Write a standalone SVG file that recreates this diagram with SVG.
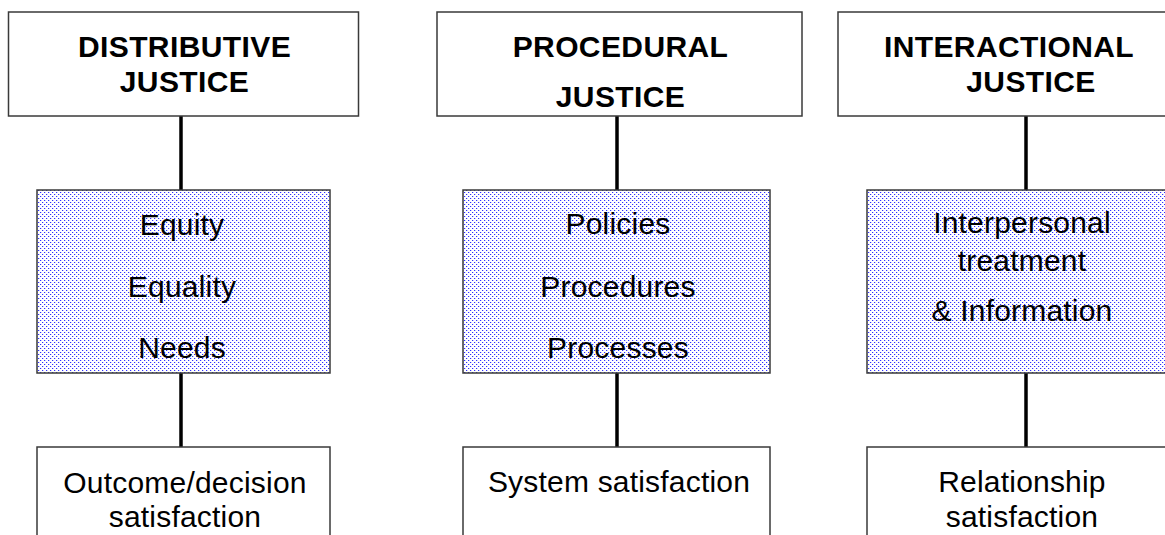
<svg xmlns="http://www.w3.org/2000/svg" width="1165" height="535" viewBox="0 0 1165 535">
<style>
.box{fill:#ffffff;stroke:#3a3a3a;stroke-width:1.5}
.dot{fill:url(#dots);stroke:#3a3a3a;stroke-width:1.5}
.title{font-family:"Liberation Sans",Arial,sans-serif;font-weight:bold;font-size:30px;letter-spacing:0.4px;fill:#000;text-anchor:middle}
.lbl{font-family:"Liberation Sans",Arial,sans-serif;font-size:30px;letter-spacing:0.2px;fill:#000;text-anchor:middle}
.conn{stroke:#000;stroke-width:3.5;fill:none}
</style>
<defs>
<pattern id="dots" x="0" y="0" width="4" height="4" patternUnits="userSpaceOnUse">
<rect x="0" y="0" width="4" height="4" fill="#ffffff"/>
<rect x="0" y="0" width="1" height="1" fill="#3030ff"/>
<rect x="2" y="2" width="1" height="1" fill="#3030ff"/>
<rect x="1" y="0" width="1" height="1" fill="#d0d0ff"/>
<rect x="3" y="2" width="1" height="1" fill="#d0d0ff"/>
</pattern>
</defs>
<g id="connectors">
<line class="conn" x1="181" y1="116" x2="181" y2="190"/>
<line class="conn" x1="181" y1="373" x2="181" y2="447"/>
<line class="conn" x1="617" y1="116" x2="617" y2="190"/>
<line class="conn" x1="617" y1="373" x2="617" y2="447"/>
<line class="conn" x1="1026" y1="116" x2="1026" y2="190"/>
<line class="conn" x1="1026" y1="373" x2="1026" y2="447"/>
</g>
<g id="distributive-justice">
<rect class="box" x="8.5" y="12" width="350" height="104"/>
<text class="title" x="184.5" y="57">DISTRIBUTIVE</text>
<text class="title" x="184.5" y="92">JUSTICE</text>
</g>
<g id="distributive-factors">
<rect class="dot" x="37" y="190" width="293" height="183"/>
<text class="lbl" x="182" y="235">Equity</text>
<text class="lbl" x="182" y="297">Equality</text>
<text class="lbl" x="182" y="358">Needs</text>
</g>
<g id="distributive-outcome">
<rect class="box" x="37" y="447" width="293" height="100"/>
<text class="lbl" x="185" y="493">Outcome/decision</text>
<text class="lbl" x="185" y="527">satisfaction</text>
</g>
<g id="procedural-justice">
<rect class="box" x="437" y="12" width="365" height="104"/>
<text class="title" x="620.5" y="57">PROCEDURAL</text>
<text class="title" x="620.5" y="107">JUSTICE</text>
</g>
<g id="procedural-factors">
<rect class="dot" x="463" y="190" width="307" height="183"/>
<text class="lbl" x="618" y="234">Policies</text>
<text class="lbl" x="618" y="297">Procedures</text>
<text class="lbl" x="618" y="358">Processes</text>
</g>
<g id="procedural-outcome">
<rect class="box" x="463" y="447" width="307" height="100"/>
<text class="lbl" x="619" y="492">System satisfaction</text>
</g>
<g id="interactional-justice">
<rect class="box" x="838" y="12" width="365" height="104"/>
<text class="title" x="1009" y="57">INTERACTIONAL</text>
<text class="title" x="1031" y="92">JUSTICE</text>
</g>
<g id="interactional-factors">
<rect class="dot" x="867" y="190" width="307" height="183"/>
<text class="lbl" x="1022" y="233">Interpersonal</text>
<text class="lbl" x="1022" y="271">treatment</text>
<text class="lbl" x="1022" y="321">&amp; Information</text>
</g>
<g id="interactional-outcome">
<rect class="box" x="867" y="447" width="307" height="100"/>
<text class="lbl" x="1022" y="492">Relationship</text>
<text class="lbl" x="1022" y="527">satisfaction</text>
</g>
</svg>
